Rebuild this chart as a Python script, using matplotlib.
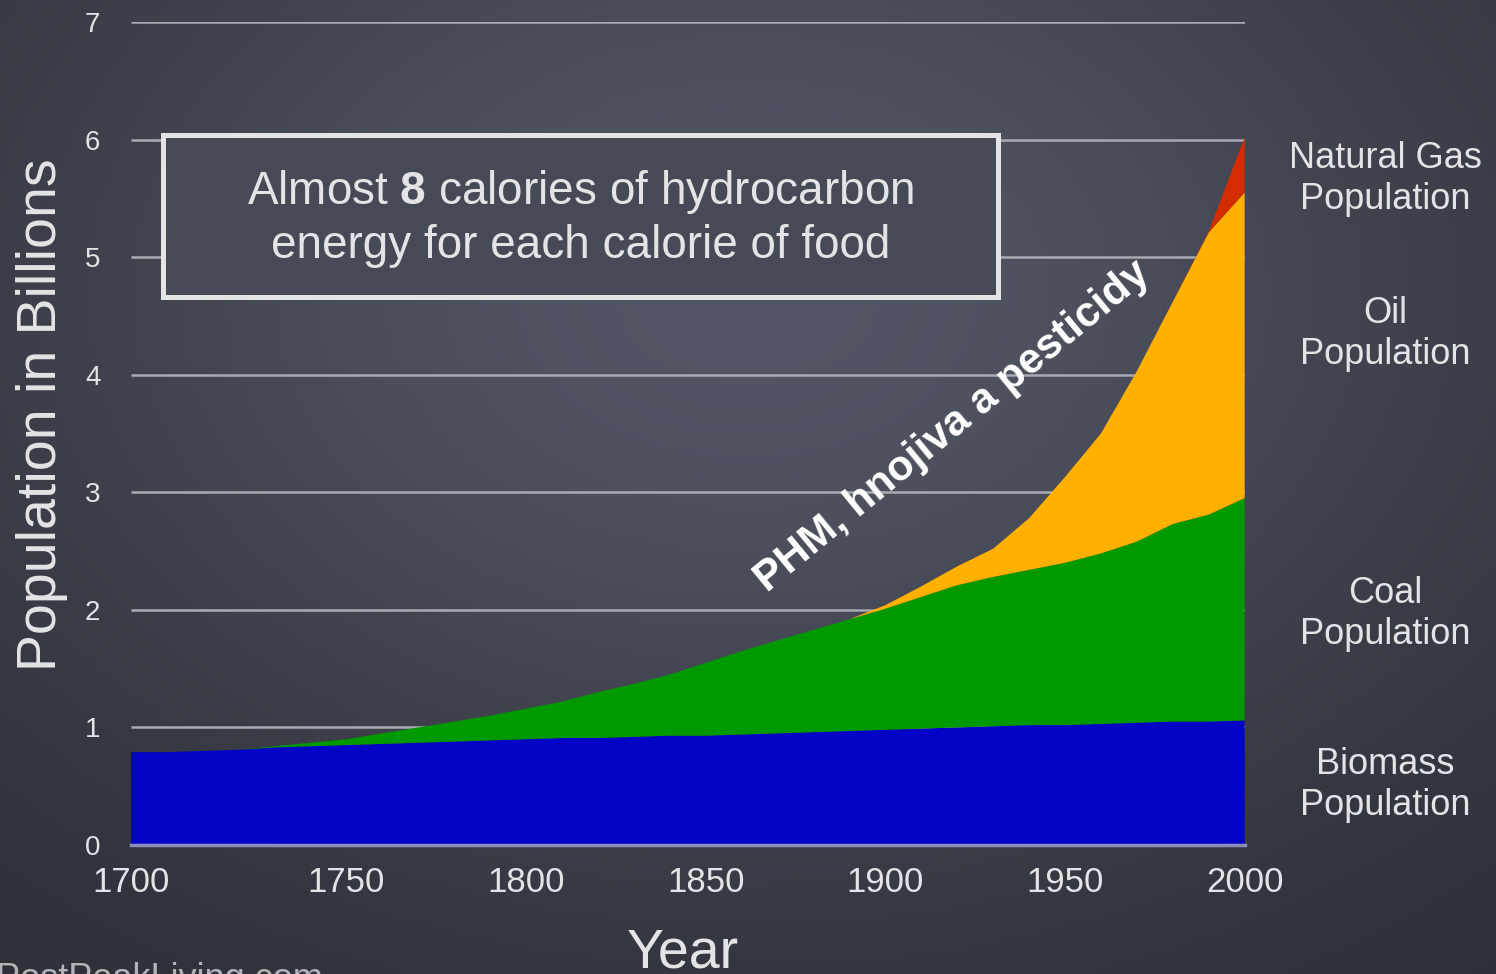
"""
Stacked area chart: world population supported by each energy source.
"""

import matplotlib
matplotlib.use('Agg')
import matplotlib.pyplot as plt
from matplotlib.patches import Rectangle
import numpy as np

plt.rcParams['font.family'] = ['Liberation Sans', 'DejaVu Sans']
plt.rcParams['mathtext.fontset'] = 'custom'
plt.rcParams['mathtext.rm'] = 'Liberation Sans'
plt.rcParams['mathtext.bf'] = 'Liberation Sans:bold'

#### Data (billions of people, layer thickness per source)
years = [1690, 1700, 1710, 1720, 1730, 1740, 1750, 1760, 1770, 1780,
         1790, 1800, 1810, 1820, 1830, 1840, 1850, 1860, 1870, 1880,
         1890, 1900, 1910, 1920, 1930, 1940, 1950, 1960, 1970, 1980,
         1990, 2000]
biomass = [0.79, 0.79, 0.80, 0.81, 0.83, 0.84, 0.85, 0.86, 0.87, 0.88,
           0.89, 0.90, 0.91, 0.91, 0.92, 0.93, 0.93, 0.94, 0.95, 0.96,
           0.97, 0.98, 0.99, 1.00, 1.01, 1.02, 1.02, 1.03, 1.04, 1.05,
           1.05, 1.06]
coal = [0.00, 0.00, 0.00, 0.00, 0.01, 0.03, 0.05, 0.09, 0.13, 0.17,
        0.21, 0.26, 0.31, 0.39, 0.45, 0.52, 0.62, 0.71, 0.79, 0.87,
        0.95, 1.03, 1.12, 1.21, 1.27, 1.32, 1.38, 1.45, 1.54, 1.68,
        1.76, 1.89]
oil = [0.0] * 21 + [0.03, 0.09, 0.16, 0.24, 0.44, 0.73, 1.02, 1.45, 1.89,
                    2.40, 2.60]
natural_gas = [0.0] * 30 + [0.01, 0.47]

source_labels = ['Natural Gas\nPopulation', 'Oil\nPopulation',
                 'Coal\nPopulation', 'Biomass\nPopulation']
label_y = [179, 334, 614, 785]   # pixel rows of the right-hand labels
colors = ['#0404c6', '#009a00', '#ffb000', '#d22c00']

x_ticks = [1690, 1750, 1800, 1850, 1900, 1950, 2000]
x_labels = ['1700', '1750', '1800', '1850', '1900', '1950', '2000']
y_ticks = [0, 1, 2, 3, 4, 5, 6, 7]

W, H = 1496, 974
TXT = '#e4e4e6'


def add_background(fig):
    """ Dark chalkboard-ish background, lighter near the top middle."""
    bg = fig.add_axes([0, 0, 1, 1], zorder=-10)
    bg.axis('off')
    yy, xx = np.mgrid[0:1:200j, 0:1:300j]
    v = np.exp(-((xx - 0.5) / 0.55) ** 2 - ((yy - 0.3) / 0.6) ** 2)
    dark = np.array([0x2a, 0x2c, 0x33]) / 255
    light = np.array([0x52, 0x56, 0x64]) / 255
    img = dark + v[..., None] * (light - dark)
    bg.imshow(img, extent=[0, 1, 0, 1], aspect='auto', origin='upper')
    bg.set_xlim(0, 1)
    bg.set_ylim(0, 1)


def main():
    fig = plt.figure(figsize=(W / 100, H / 100), dpi=100)
    add_background(fig)

    ax = fig.add_axes([131 / W, 1 - 845 / H, 1114 / W, 823 / H])
    ax.set_facecolor('none')
    ax.set_xlim(1690, 2000.1)
    ax.set_ylim(0, 7)
    for s in ax.spines.values():
        s.set_visible(False)

    ax.hlines(y_ticks[1:], 1690, 2000.1, color='#a9abb3', lw=1.8, zorder=1)
    ax.stackplot(years, biomass, coal, oil, natural_gas, colors=colors,
                 lw=0, zorder=2)
    ax.axhline(0, color='#8c8eb8', lw=2.5, zorder=3, clip_on=False)

    ax.set_xticks(x_ticks)
    ax.set_xticklabels(x_labels)
    ax.set_yticks(y_ticks)
    ax.tick_params(axis='x', length=0, pad=15, labelsize=25, labelcolor=TXT)
    ax.tick_params(axis='y', length=0, pad=22, labelsize=20, labelcolor=TXT)

    # text box
    box = Rectangle((32 / 1114, 548 / 823), 835 / 1114, 162 / 823,
                    transform=ax.transAxes, facecolor='#464a57',
                    edgecolor='#e4e4e4', lw=3.6, zorder=4)
    ax.add_patch(box)
    ax.text(450 / 1114, 627 / 823,
            'Almost $\\mathbf{8}$ calories of hydrocarbon\n'
            'energy for each calorie of food',
            transform=ax.transAxes, ha='center', va='center',
            fontsize=33, color=TXT, linespacing=1.22, zorder=5)

    ax.text(1918.6, 3.56, 'PHM, hnojiva a pesticidy', rotation=39.4,
            rotation_mode='anchor', ha='center', va='center',
            fontsize=30.5, fontweight='bold', color='white', zorder=6)

    for lab, py in zip(source_labels, label_y):
        fig.text(1385 / W, 1 - py / H, lab, ha='center', va='center',
                 fontsize=26, color=TXT, linespacing=1.2)

    fig.text(42 / W, 1 - 415 / H, 'Population in Billions', rotation=90,
             ha='center', va='center', fontsize=40, color=TXT)
    fig.text(683 / W, 1 - 968 / H, 'Year', ha='center', va='baseline',
             fontsize=40, color=TXT)
    fig.text(-4 / W, 1 - 962 / H, 'PostPeakLiving.com', ha='left', va='top',
             fontsize=26, color='#b4b4b8')

    fig.savefig('out.png', dpi=100)


if __name__ == '__main__':
    main()
